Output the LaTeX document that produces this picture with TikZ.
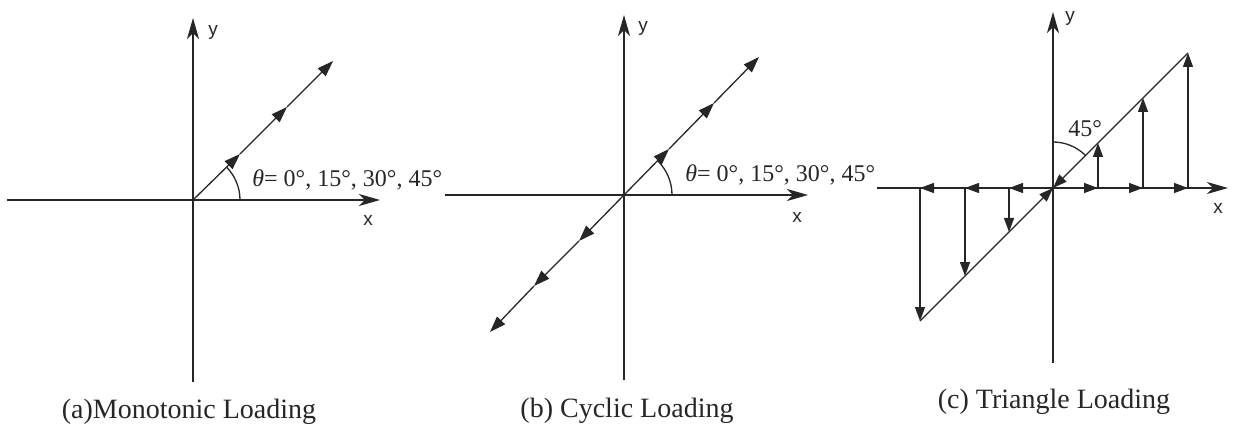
\documentclass[tikz,border=0pt]{standalone}
\usepackage{fontspec}
\setmainfont{Liberation Serif}
\newfontfamily\axfont{Liberation Sans}
\usetikzlibrary{arrows.meta}
\definecolor{ink}{HTML}{262626}
\begin{document}
\begin{tikzpicture}[x=0.5pt,y=0.5pt,
  axisline/.style={line width=0.65pt, draw=ink, -{Stealth[length=10.5pt,width=6pt,inset=3pt]}},
  plainline/.style={line width=0.65pt, draw=ink},
  midarr/.style={line width=0.65pt, draw=ink, -{Triangle[length=8pt,width=5.5pt]}},
  smallarr/.style={line width=0.65pt, draw=ink, -{Triangle[length=7pt,width=5pt]}},
  axlab/.style={font=\axfont\fontsize{9.5}{10}\selectfont, text=ink, inner sep=0pt},
  captxt/.style={font=\fontsize{14}{16}\selectfont, text=ink, inner sep=0pt, anchor=base},
  angtxt/.style={font=\fontsize{12}{14}\selectfont, text=ink, inner sep=0pt, anchor=base west}]
\useasboundingbox (0,0) rectangle (1241,-427);

% ---------- (a) Monotonic ----------
\coordinate (aO) at (193,-200);
\coordinate (aL) at (7,-200);
\coordinate (aR) at (380,-200);
\coordinate (aT) at (193,-18);
\coordinate (aB) at (193,-382);
\coordinate (a1) at (240,-154);
\coordinate (a2) at (287,-107);
\coordinate (aE) at (333,-61);
\draw[plainline] (aL) -- (aO);
\draw[axisline] (aO) -- (aR);
\draw[plainline] (aB) -- (aO);
\draw[axisline] (aO) -- (aT);
\draw[midarr] (aO) -- (a1);
\draw[midarr] (a1) -- (a2);
\draw[midarr] (a2) -- (aE);
\draw[plainline] ([shift={(0:23.5pt)}]aO) arc[start angle=0,end angle=45,radius=23.5pt];
\node[axlab] (ay) at (213,-32) {y};
\node[axlab] (ax) at (368,-220) {x};
\node[angtxt] (ath) at (252,-187) {{\itshape θ}= 0°, 15°, 30°, 45°};
\node[captxt] (acap) at (189,-418) {(a)Monotonic Loading};

% ---------- (b) Cyclic ----------
\coordinate (bO) at (624,-195);
\coordinate (bL) at (445,-195);
\coordinate (bR) at (808,-195);
\coordinate (bT) at (624,-15);
\coordinate (bB) at (624,-380);
\coordinate (b1) at (669,-149);
\coordinate (b2) at (714,-103);
\coordinate (bE) at (759,-57);
\coordinate (b3) at (579,-241);
\coordinate (b4) at (534,-286);
\coordinate (bF) at (490,-332);
\draw[plainline] (bL) -- (bO);
\draw[axisline] (bO) -- (bR);
\draw[plainline] (bB) -- (bO);
\draw[axisline] (bO) -- (bT);
\draw[midarr] (bO) -- (b1);
\draw[midarr] (b1) -- (b2);
\draw[midarr] (b2) -- (bE);
\draw[midarr] (bO) -- (b3);
\draw[midarr] (b3) -- (b4);
\draw[midarr] (b4) -- (bF);
\draw[plainline] ([shift={(0:24pt)}]bO) arc[start angle=0,end angle=45,radius=24pt];
\node[axlab] (by) at (643,-28) {y};
\node[axlab] (bx) at (797,-217) {x};
\node[angtxt] (bth) at (685,-182) {{\itshape θ}= 0°, 15°, 30°, 45°};
\node[captxt] (bcap) at (627,-417) {(b) Cyclic Loading};

% ---------- (c) Triangle ----------
\coordinate (cO) at (1053,-188);
\coordinate (cL) at (877,-188);
\coordinate (cR) at (1228,-188);
\coordinate (cT) at (1053,-12);
\coordinate (cB) at (1053,-363);
\coordinate (r1) at (1098,-188);
\coordinate (r1t) at (1098,-143);
\coordinate (r2) at (1143,-188);
\coordinate (r2t) at (1143,-98);
\coordinate (r3) at (1188,-188);
\coordinate (r3t) at (1188,-53);
\coordinate (l1) at (1009,-188);
\coordinate (l1b) at (1009,-232);
\coordinate (l2) at (965,-188);
\coordinate (l2b) at (965,-276);
\coordinate (l3) at (920,-188);
\coordinate (l3b) at (920,-321);
\draw[plainline] (cL) -- (cO);
\draw[axisline] (cO) -- (cR);
\draw[plainline] (cB) -- (cO);
\draw[axisline] (cO) -- (cT);
\draw[smallarr] (cO) -- (r1);
\draw[smallarr] (r1) -- (r2);
\draw[smallarr] (r2) -- (r3);
\draw[smallarr] (r1) -- (r1t);
\draw[smallarr] (r2) -- (r2t);
\draw[smallarr] (r3) -- (r3t);
\draw[smallarr] (r3t) -- (cO);
\draw[smallarr] (cO) -- (l1);
\draw[smallarr] (l1) -- (l2);
\draw[smallarr] (l2) -- (l3);
\draw[smallarr] (l1) -- (l1b);
\draw[smallarr] (l2) -- (l2b);
\draw[smallarr] (l3) -- (l3b);
\draw[smallarr] (l3b) -- (cO);
\draw[plainline] ([shift={(90:23pt)}]cO) arc[start angle=90,end angle=45,radius=23pt];
\node[axlab] (cy) at (1070,-18) {y};
\node[axlab] (cx) at (1218,-208) {x};
\node[angtxt] (cang) at (1068,-137) {45°};
\node[captxt] (ccap) at (1054,-408) {(c) Triangle Loading};
\end{tikzpicture}
\end{document}
